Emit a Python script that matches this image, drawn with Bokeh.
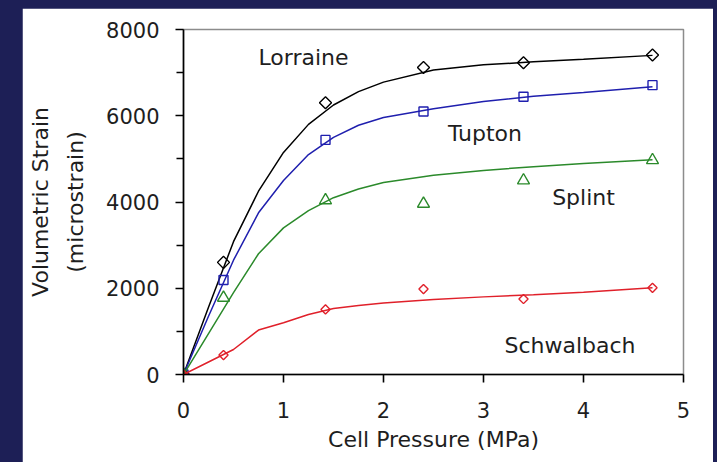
import math
from bokeh.plotting import figure
from bokeh.layouts import column
from bokeh.models import Range1d, FixedTicker, Label, LinearAxis
from bokeh.embed import file_html
from bokeh.resources import INLINE

# Measured points (cell pressure in MPa, volumetric strain in microstrain)
pressure = [0.0, 0.4, 1.42, 2.4, 3.4, 4.69]
lorraine = [0, 2600, 6300, 7120, 7230, 7410]
tupton = [0, 2190, 5440, 6100, 6440, 6710]
splint = [0, 1780, 4040, 3960, 4500, 4970]
schwalbach = [0, 450, 1510, 1980, 1750, 2010]

# Fitted curves, sampled along the pressure axis
curve_p = [0.0, 0.25, 0.5, 0.75, 1.0, 1.25, 1.5, 1.75, 2.0, 2.5, 3.0, 3.5, 4.0, 4.69]
lorraine_fit = [0, 1560, 3080, 4250, 5150, 5800, 6250, 6560, 6780, 7060, 7180, 7250, 7310, 7400]
tupton_fit = [0, 1350, 2650, 3750, 4500, 5100, 5500, 5780, 5960, 6160, 6330, 6450, 6540, 6670]
splint_fit = [0, 950, 1900, 2800, 3400, 3800, 4100, 4300, 4450, 4620, 4730, 4820, 4890, 4980]
schwalbach_fit = [0, 290, 580, 1030, 1200, 1390, 1530, 1600, 1660, 1740, 1800, 1850, 1910, 2010]

x_ticks = [0, 1, 2, 3, 4, 5]
y_ticks = [0, 2000, 4000, 6000, 8000]
y_minor = [1000, 3000, 5000, 7000]

FONT = "DejaVu Sans"
TXT = "#1e1e1e"
NAVY = "#1d1f56"

p = figure(width=691, height=454, output_backend="svg", toolbar_location=None,
           x_range=Range1d(0, 5), y_range=Range1d(0, 8000),
           min_border_left=161, min_border_right=30, min_border_top=21, min_border_bottom=88)
p.margin = (8, 4, 0, 22)
p.background_fill_color = "white"
p.border_fill_color = "white"
p.outline_line_color = "#8c8c8c"
p.outline_line_width = 1.5
p.xgrid.visible = False
p.ygrid.visible = False

p.xaxis.ticker = FixedTicker(ticks=x_ticks)
p.yaxis.ticker = FixedTicker(ticks=y_ticks, minor_ticks=y_minor)
for ax in (p.xaxis, p.yaxis):
    ax.axis_line_color = "black"
    ax.axis_line_width = 1.6
    ax.major_tick_line_color = "black"
    ax.major_tick_line_width = 1.6
    ax.minor_tick_line_color = "black"
    ax.minor_tick_line_width = 1.6
    ax.major_tick_in = 0
    ax.major_tick_out = 8
    ax.minor_tick_in = 0
    ax.minor_tick_out = 7
    ax.major_label_text_font = FONT
    ax.major_label_text_font_size = "21px"
    ax.major_label_text_color = TXT
    ax.axis_label_text_font = FONT
    ax.axis_label_text_font_size = "22px"
    ax.axis_label_text_font_style = "normal"
    ax.axis_label_text_color = TXT
p.xaxis.minor_tick_line_color = None
p.xaxis.major_label_standoff = 19
p.yaxis.major_label_standoff = 16

p.xaxis.axis_label = "Cell Pressure (MPa)"
p.xaxis.axis_label_standoff = 6

# Two-line strain title: inner line on the tick axis, outer line on a bare axis
p.yaxis.axis_label = "(microstrain)"
p.yaxis.axis_label_standoff = 15
outer = LinearAxis(axis_label="Volumetric Strain", ticker=FixedTicker(ticks=[]),
                   axis_line_color=None, major_tick_line_color=None,
                   minor_tick_line_color=None, major_label_text_font_size="0px",
                   axis_label_text_font=FONT, axis_label_text_font_size="22px",
                   axis_label_text_font_style="normal", axis_label_text_color=TXT,
                   axis_label_standoff=8, major_label_standoff=0,
                   major_tick_out=0, major_tick_in=0, minor_tick_out=0, minor_tick_in=0)
p.add_layout(outer, "left")

series = [
    (lorraine, lorraine_fit, "black", "square", 8.5, math.pi / 4),
    (tupton, tupton_fit, "#1f1fae", "square", 9, 0.0),
    (splint, splint_fit, "#2b8a2b", "triangle", 12, 0.0),
    (schwalbach, schwalbach_fit, "#e0202a", "square", 6.5, math.pi / 4),
]
for pts, fit, color, marker, size, angle in series:
    p.line(curve_p, fit, line_color=color, line_width=1.5)
    p.scatter(pressure, pts, marker=marker, size=size, angle=angle,
              line_color=color, line_width=1.4, fill_color=None)

# Curve names
names = [("Lorraine", 1.2, 7350), ("Tupton", 3.015, 5590),
         ("Splint", 4.0, 4110), ("Schwalbach", 3.865, 670)]
for text, x, y in names:
    p.add_layout(Label(x=x, y=y, text=text, text_font=FONT, text_font_size="22px",
                       text_color=TXT, text_align="center", text_baseline="middle"))

page = column(p, styles={"background-color": NAVY})
open("out.html", "w").write(file_html(page, INLINE))
